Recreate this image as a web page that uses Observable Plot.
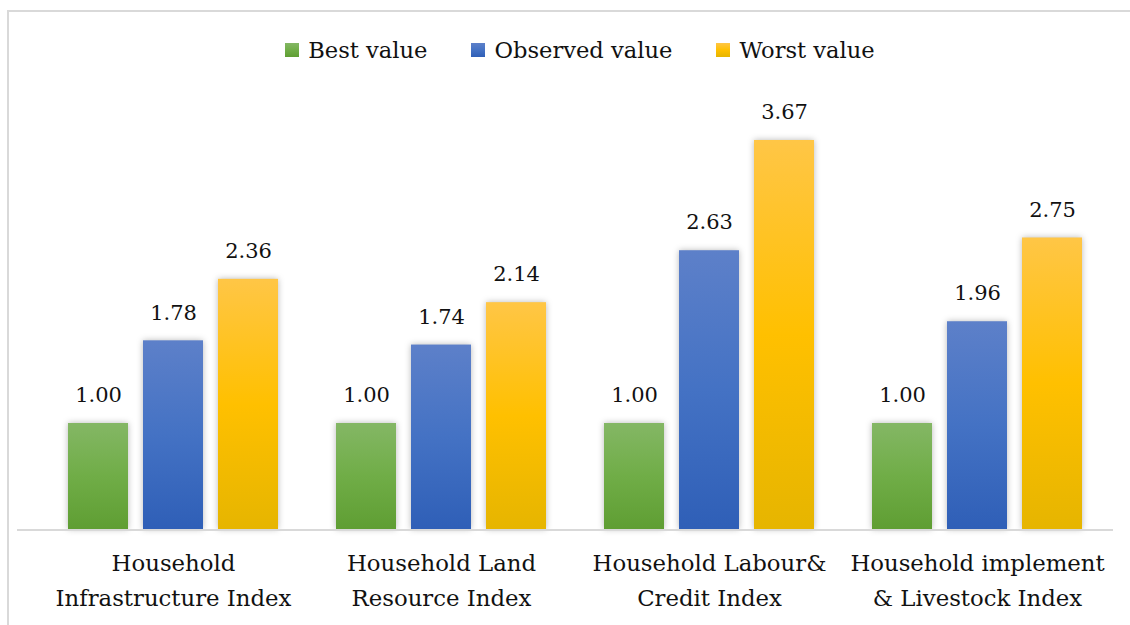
<!DOCTYPE html>
<html>
<head>
<meta charset="utf-8">
<script src="https://cdn.jsdelivr.net/npm/d3@7"></script>
<script src="https://cdn.jsdelivr.net/npm/@observablehq/plot@0.6"></script>
<style>
  html, body { margin: 0; padding: 0; background: #fff; }
  #page { position: relative; width: 1130px; height: 625px; overflow: hidden; font-family: "DejaVu Serif", serif; color: #111; }
  #frame { position: absolute; left: 7px; top: 10px; width: 1200px; height: 700px; border-top: 2px solid #d9d9d9; border-left: 2px solid #d9d9d9; pointer-events: none; }
  #legend { height: 75px; display: flex; justify-content: center; align-items: center; gap: 44px; padding-left: 30px; box-sizing: border-box; padding-top: 37px; padding-bottom: 13px; font-size: 22.6px; }
  #legend .item { display: flex; align-items: center; }
  #legend .sw { width: 14px; height: 14px; margin-right: 9px; display: inline-block; }
  svg g[aria-label="bar"] rect { filter: drop-shadow(0px 0px 3px rgba(0,0,0,0.28)); }
</style>
</head>
<body>
<div id="page">
  <div id="legend"></div>
  <div id="chart"></div>
  <div id="frame"></div>
</div>
<script>
const categories = [
  "Household Infrastructure Index",
  "Household Land Resource Index",
  "Household Labour& Credit Index",
  "Household implement & Livestock Index"
];
const categoryLabels = [
  "Household\nInfrastructure Index",
  "Household Land\nResource Index",
  "Household Labour&\nCredit Index",
  "Household implement\n& Livestock Index"
];
const series = ["Best value", "Observed value", "Worst value"];
const bestValues = [1.00, 1.00, 1.00, 1.00];
const observedValues = [1.78, 1.74, 2.63, 1.96];
const worstValues = [2.36, 2.14, 3.67, 2.75];

const seriesValues = [bestValues, observedValues, worstValues];
const gradIds = ["gBest", "gObserved", "gWorst"];
const gradStops = [
  ["#84b765", "#70ad47", "#5f9e33"],
  ["#5d80c9", "#4472c4", "#2f5fb7"],
  ["#ffc646", "#ffc000", "#e6b500"]
];

const rows = [];
categories.forEach((c, i) => {
  series.forEach((s, j) => rows.push({category: c, series: s, value: seriesValues[j][i]}));
});

// Legend
const legend = d3.select("#legend");
series.forEach((s, j) => {
  const it = legend.append("div").attr("class", "item");
  it.append("span").attr("class", "sw")
    .style("background", `linear-gradient(${gradStops[j][0]}, ${gradStops[j][1]}, ${gradStops[j][2]})`);
  it.append("span").text(s);
});

const chart = Plot.plot({
  width: 1130,
  height: 550,
  marginLeft: 37,
  marginRight: 18,
  marginTop: 30,
  marginBottom: 96,
  style: {fontFamily: "DejaVu Serif, serif", color: "#111", background: "transparent", overflow: "visible"},
  fx: {domain: categories, paddingInner: 0.218, paddingOuter: 0.109, axis: null, label: null},
  x: {domain: series, paddingInner: 0.2, paddingOuter: 0, axis: null},
  y: {domain: [0, 4], axis: null},
  marks: [
    ...series.map((s, j) => Plot.barY(rows.filter(r => r.series === s), {
      fx: "category", x: "series", y: "value", fill: `url(#${gradIds[j]})`
    })),
    Plot.text(rows, {
      fx: "category", x: "series", y: "value",
      text: d => d.value.toFixed(2), dy: -28, fontSize: 21, fill: "#111"
    }),
    Plot.text(categories, {
      fx: d => d, text: (d, i) => categoryLabels[i],
      frameAnchor: "bottom", dy: 76, lineHeight: 1.53, fontSize: 22.8, fill: "#111"
    })
  ]
});

const svg = d3.select(chart);
const defs = svg.insert("defs", ":first-child");
gradIds.forEach((id, j) => {
  const g = defs.append("linearGradient").attr("id", id)
    .attr("x1", 0).attr("y1", 0).attr("x2", 0).attr("y2", 1);
  g.append("stop").attr("offset", "0%").attr("stop-color", gradStops[j][0]);
  g.append("stop").attr("offset", "50%").attr("stop-color", gradStops[j][1]);
  g.append("stop").attr("offset", "100%").attr("stop-color", gradStops[j][2]);
});
// baseline axis across the full plot width
const y0 = chart.scale("y").apply(0);
svg.append("line")
  .attr("x1", 17).attr("x2", 1113)
  .attr("y1", y0 + 1).attr("y2", y0 + 1)
  .attr("stroke", "#d9d9d9").attr("stroke-width", 2);

document.getElementById("chart").appendChild(chart);
</script>
</body>
</html>
